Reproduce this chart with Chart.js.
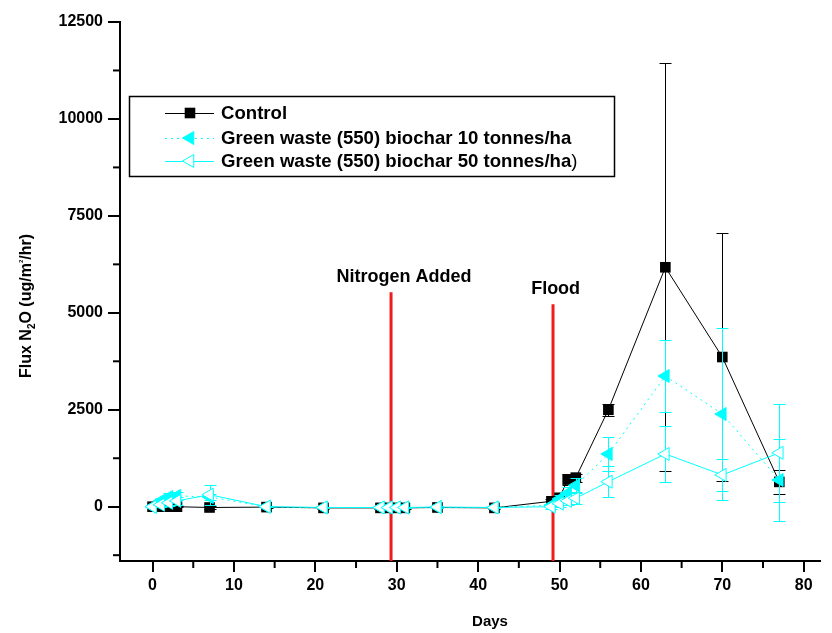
<!DOCTYPE html>
<html>
<head>
<meta charset="utf-8">
<script src="https://cdn.jsdelivr.net/npm/chart.js@4.4.0/dist/chart.umd.min.js"></script>
<style>
  html, body { margin: 0; padding: 0; background: #fff; }
  canvas { display: block; }
</style>
</head>
<body>
<canvas id="chartCanvas" width="832" height="633"></canvas>
<script>
// ── Data ──
var sampleDays = [0, 1, 2, 3, 7, 14, 21, 28, 29, 30, 31, 35, 42, 49, 50, 51, 52, 56, 63, 70, 77];

var controlFlux = [0, 0, 0, 0, -20, -10, -30, -30, -30, -30, -30, -20, -30, 140, 230, 700, 750, 2500, 6175, 3860, 640];
var controlErr  = [20, 20, 20, 20, 30, 20, 20, 20, 20, 20, 20, 20, 20, 60, 80, 150, 100, 150, 5260, 3205, 300];

var bc10Flux = [0, 150, 250, 280, 250, 0, -20, -20, -20, -20, -20, -10, -20, 40, 200, 350, 550, 1360, 3370, 2390, 690];
var bc10Err  = [20, 80, 100, 100, 80, 20, 20, 20, 20, 20, 20, 20, 20, 40, 100, 150, 200, 430, 930, 2220, 1050];

var bc50Flux = [0, 50, 100, 150, 310, 0, -20, -20, -20, -20, -20, -10, -20, 0, 80, 150, 220, 645, 1360, 820, 1390];
var bc50Err  = [20, 60, 80, 100, 260, 20, 20, 20, 20, 20, 20, 20, 20, 50, 80, 100, 150, 400, 720, 420, 1256];

var seriesLabels = ['Control', 'Green waste (550) biochar 10 tonnes/ha', 'Green waste (550) biochar 50 tonnes/ha)'];

var xTicks = [0, 10, 20, 30, 40, 50, 60, 70, 80];
var yTicks = [0, 2500, 5000, 7500, 10000, 12500];

var eventLabels = ['Nitrogen Added', 'Flood'];
var eventDays   = [29.3, 49.2];
var eventTops   = [5530, 5220];

var FONT = '"Liberation Sans", Arial, sans-serif';
var CYAN = '#00ffff';

function points(xs, ys) {
  return xs.map(function (x, i) { return { x: x, y: ys[i] }; });
}

// ── Error bars, drawn under each dataset's own line ──
var errorBars = {
  id: 'errorBars',
  beforeDatasetDraw: function (chart, args) {
    var ds = chart.data.datasets[args.index];
    if (!ds.errors) return;
    var xs = chart.scales.x, ys = chart.scales.y, ctx = chart.ctx;
    ctx.save();
    ctx.strokeStyle = ds.errColor;
    ctx.lineWidth = 1;
    ds.data.forEach(function (p, i) {
      var e = ds.errors[i];
      if (!e) return;
      var px = Math.round(xs.getPixelForValue(p.x)) + 0.5;
      var y1 = Math.round(ys.getPixelForValue(p.y + e)) + 0.5;
      var y2 = Math.round(ys.getPixelForValue(p.y - e)) + 0.5;
      ctx.beginPath();
      ctx.moveTo(px, y1); ctx.lineTo(px, y2);
      ctx.moveTo(px - 6, y1); ctx.lineTo(px + 6, y1);
      ctx.moveTo(px - 6, y2); ctx.lineTo(px + 6, y2);
      ctx.stroke();
    });
    ctx.restore();
  }
};

// ── Minor ticks, event lines, titles and legend box ──
var decorations = {
  id: 'decorations',
  beforeDatasetsDraw: function (chart) {
    var ctx = chart.ctx, xs = chart.scales.x, ys = chart.scales.y, area = chart.chartArea;
    ctx.save();
    ctx.strokeStyle = '#ee1c1c';
    ctx.lineWidth = 3;
    eventDays.forEach(function (d, i) {
      var px = xs.getPixelForValue(d);
      ctx.beginPath();
      ctx.moveTo(px, ys.getPixelForValue(eventTops[i]));
      ctx.lineTo(px, area.bottom);
      ctx.stroke();
    });
    ctx.fillStyle = '#000';
    ctx.font = 'bold 18px ' + FONT;
    ctx.textAlign = 'center';
    ctx.textBaseline = 'alphabetic';
    eventDays.forEach(function (d, i) {
      ctx.fillText(eventLabels[i], xs.getPixelForValue(d) + 13 * (i === 0 ? 1 : 0.2), ys.getPixelForValue(eventTops[i]) - 10);
    });
    ctx.restore();
  },
  afterDraw: function (chart) {
    var ctx = chart.ctx, xs = chart.scales.x, ys = chart.scales.y, area = chart.chartArea;
    ctx.save();
    ctx.strokeStyle = '#000';
    ctx.lineWidth = 2;
    // minor ticks halfway between the labelled ones
    var xStep = xTicks[1] - xTicks[0];
    xTicks.forEach(function (v) {
      var m = v - xStep / 2;
      if (m < xs.min) return;
      var px = xs.getPixelForValue(m);
      ctx.beginPath(); ctx.moveTo(px, area.bottom); ctx.lineTo(px, area.bottom + 7); ctx.stroke();
    });
    var yStep = yTicks[1] - yTicks[0];
    yTicks.forEach(function (v) {
      var m = v - yStep / 2;
      if (m < ys.min) return;
      var py = ys.getPixelForValue(m);
      ctx.beginPath(); ctx.moveTo(area.left, py); ctx.lineTo(area.left - 7, py); ctx.stroke();
    });

    // x title
    ctx.fillStyle = '#000';
    ctx.font = 'bold 15px ' + FONT;
    ctx.textAlign = 'center';
    ctx.textBaseline = 'middle';
    ctx.fillText('Days', (area.left + area.right) / 2 + 20, 622);

    // y title with sub/superscript
    var parts = [
      { t: 'Flux N', s: 16, dy: 0 },
      { t: '2', s: 10, dy: 5 },
      { t: 'O (ug/m', s: 16, dy: 0 },
      { t: '2', s: 6, dy: -6 },
      { t: '/hr)', s: 16, dy: 0 }
    ];
    var total = 0;
    parts.forEach(function (p) { ctx.font = 'bold ' + p.s + 'px ' + FONT; p.w = ctx.measureText(p.t).width; total += p.w; });
    ctx.translate(27, 306);
    ctx.rotate(-Math.PI / 2);
    ctx.textAlign = 'left';
    var cx = -total / 2;
    parts.forEach(function (p) {
      ctx.font = 'bold ' + p.s + 'px ' + FONT;
      ctx.fillText(p.t, cx, p.dy);
      cx += p.w;
    });
    ctx.restore();

    // legend
    ctx.save();
    ctx.strokeStyle = '#000';
    ctx.lineWidth = 1.5;
    ctx.strokeRect(129.5, 96.5, 485, 80);
    var rows = [113, 138, 161];
    chart.data.datasets.forEach(function (ds, i) {
      var y = rows[i];
      ctx.save();
      ctx.strokeStyle = ds.borderColor;
      ctx.lineWidth = 1;
      ctx.setLineDash(ds.borderDash || []);
      ctx.beginPath(); ctx.moveTo(165, y + 0.5); ctx.lineTo(214, y + 0.5); ctx.stroke();
      ctx.setLineDash([]);
      ctx.fillStyle = ds.pointBackgroundColor;
      ctx.strokeStyle = ds.pointBorderColor;
      Chart.helpers.drawPoint(ctx, {
        pointStyle: ds.pointStyle, radius: ds.pointRadius,
        rotation: ds.pointRotation || 0, borderWidth: ds.pointBorderWidth
      }, 190, y);
      ctx.restore();
      ctx.fillStyle = '#000';
      ctx.textAlign = 'left';
      ctx.textBaseline = 'middle';
      var label = seriesLabels[i];
      ctx.font = 'bold 18.6px ' + FONT;
      if (i === 2) {
        // the closing bracket is set in regular weight in the original
        var main = label.slice(0, -1);
        ctx.fillText(main, 221, y + 1);
        var w = ctx.measureText(main).width;
        ctx.font = '18.6px ' + FONT;
        ctx.fillText(')', 221 + w, y + 1);
      } else {
        ctx.fillText(label, 221, y + 1);
      }
    });
    ctx.restore();
  }
};

var ctx = document.getElementById('chartCanvas').getContext('2d');
new Chart(ctx, {
  type: 'line',
  data: {
    datasets: [
      {
        label: seriesLabels[0],
        data: points(sampleDays, controlFlux),
        errors: controlErr, errColor: '#000',
        borderColor: '#000', borderWidth: 1,
        pointStyle: 'rect', pointRadius: 7.5,
        pointBackgroundColor: '#000', pointBorderColor: '#000', pointBorderWidth: 0,
        order: 3
      },
      {
        label: seriesLabels[1],
        data: points(sampleDays, bc10Flux),
        errors: bc10Err, errColor: CYAN,
        borderColor: CYAN, borderWidth: 1, borderDash: [2, 4],
        pointStyle: 'triangle', pointRotation: 270, pointRadius: 7.5,
        pointBackgroundColor: CYAN, pointBorderColor: CYAN, pointBorderWidth: 1,
        order: 2
      },
      {
        label: seriesLabels[2],
        data: points(sampleDays, bc50Flux),
        errors: bc50Err, errColor: CYAN,
        borderColor: CYAN, borderWidth: 1,
        pointStyle: 'triangle', pointRotation: 270, pointRadius: 7.5,
        pointBackgroundColor: '#fff', pointBorderColor: CYAN, pointBorderWidth: 1,
        order: 1
      }
    ]
  },
  options: {
    responsive: false,
    animation: false,
    devicePixelRatio: 1,
    layout: { padding: { top: 22, right: 12, left: 0, bottom: 0 } },
    plugins: { legend: { display: false }, tooltip: { enabled: false } },
    elements: { line: { tension: 0 } },
    scales: {
      x: {
        type: 'linear', min: -4, max: 82,
        afterFit: function (s) { s.height = 72; },
        afterBuildTicks: function (s) { s.ticks = xTicks.map(function (v) { return { value: v }; }); },
        border: { display: true, color: '#000', width: 2 },
        grid: { drawOnChartArea: false, drawTicks: true, tickLength: 11, color: '#000', lineWidth: 2 },
        ticks: { color: '#000', padding: 4, maxRotation: 0, font: { family: FONT, size: 16, weight: 'bold' },
                 callback: function (v) { return String(v); } }
      },
      y: {
        type: 'linear', min: -1400, max: 12500,
        afterFit: function (s) { s.width = 120; },
        afterBuildTicks: function (s) { s.ticks = yTicks.map(function (v) { return { value: v }; }); },
        border: { display: true, color: '#000', width: 2 },
        grid: { drawOnChartArea: false, drawTicks: true, tickLength: 12, color: '#000', lineWidth: 2 },
        ticks: { color: '#000', padding: 5, font: { family: FONT, size: 16, weight: 'bold' },
                 callback: function (v) { return String(v); } }
      }
    }
  },
  plugins: [errorBars, decorations]
});
</script>
</body>
</html>
